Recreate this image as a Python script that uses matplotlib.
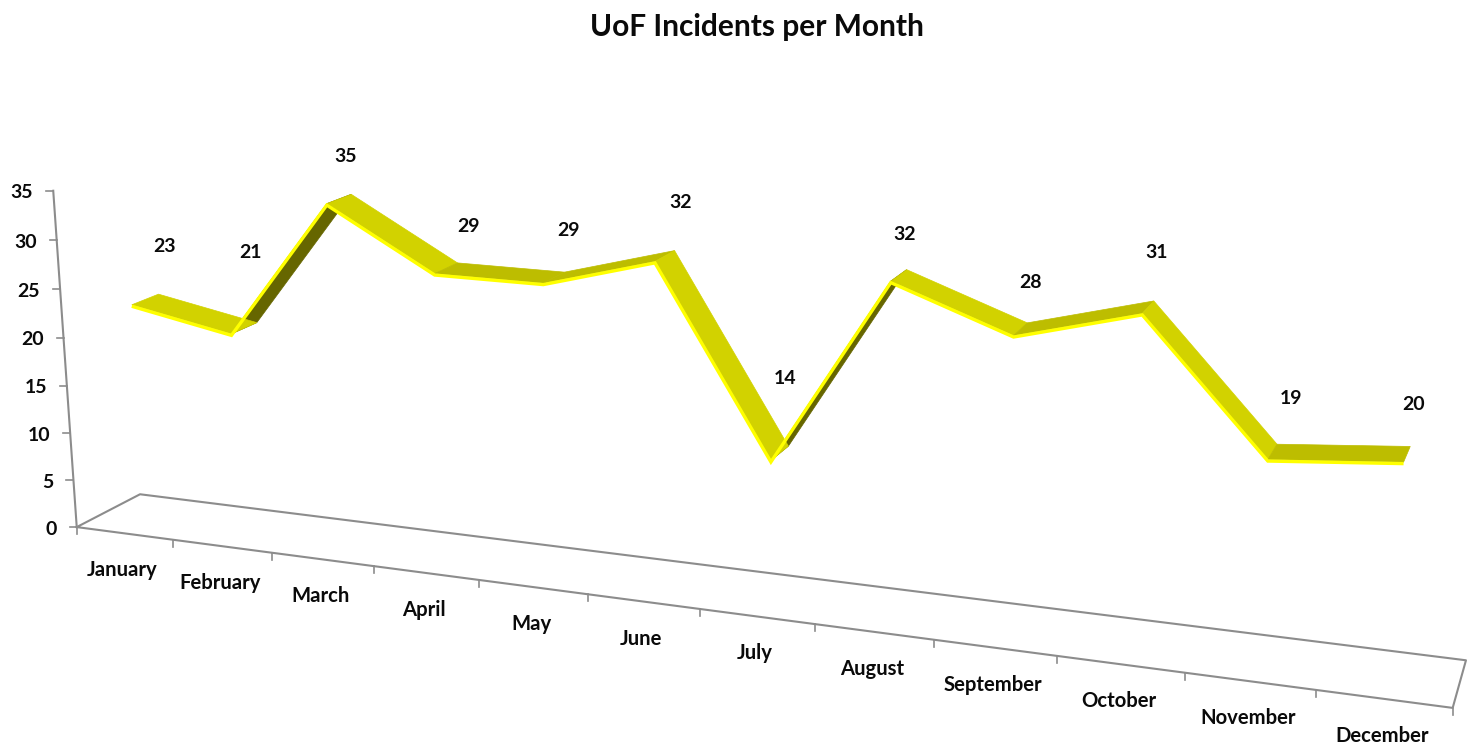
import numpy as np
import matplotlib
matplotlib.use('Agg')
import matplotlib.pyplot as plt
from matplotlib.patches import Polygon

plt.rcParams['font.family'] = ['Lato', 'DejaVu Sans']

title = 'UoF Incidents per Month'
months = ['January', 'February', 'March', 'April', 'May', 'June', 'July',
          'August', 'September', 'October', 'November', 'December']
incidents = [23, 21, 35, 29, 29, 32, 14, 32, 28, 31, 19, 20]
y_ticks = [0, 5, 10, 15, 20, 25, 30, 35]

# where the value labels sit in the picture, they were dragged by hand in the original
label_pos = [(164, 246), (250, 253), (346, 156), (469, 227), (569, 230), (681, 202),
             (785, 378), (905, 234), (1030, 282), (1157, 253), (1291, 398), (1414, 404)]

# (month edge, value, depth) -> picture pixel, used to fit the 3d camera
calib_world = [(0, 0, 0), (1, 0, 0), (11, 0, 0), (12, 0, 0), (0, 0, 1), (12, 0, 1),
               (0, 35, 0), (0, 20, 0), (12, 35, 0)]
calib_pixel = [(77, 527), (173, 540), (1316, 690), (1453, 708), (140, 494.5), (1466, 660),
               (53.5, 191), (63, 337), (1481, 306)]

GREY = '#8c8c8c'
TEXT = '#0a0a0a'
LIT = '#d2d200'
FLAT = '#bdbd00'
DARK = '#666600'
EDGE = '#ffff00'
Z_FRONT = 0.33
Z_BACK = 0.75


def fit_camera(world, pixel):
    rows = []
    rhs = []
    for (x, y, z), (u, v) in zip(world, pixel):
        rows.append([x, y, z, 1, 0, 0, 0, 0, -u * x, -u * y, -u * z])
        rows.append([0, 0, 0, 0, x, y, z, 1, -v * x, -v * y, -v * z])
        rhs += [u, v]
    sol = np.linalg.lstsq(np.array(rows, dtype=float), np.array(rhs, dtype=float), rcond=None)[0]
    return np.append(sol, 1).reshape(3, 4)


camera = fit_camera(calib_world, calib_pixel)


def project(x, y, z):
    p = camera @ np.array([x, y, z, 1.0])
    return p[0] / p[2], p[1] / p[2]


def segment_color(change):
    if change > 5:
        return DARK
    if change >= 0:
        return FLAT
    return LIT


fig = plt.figure(figsize=(14.76, 7.49), dpi=100)
ax = fig.add_axes([0, 0, 1, 1])
ax.set_xlim(0, 1476)
ax.set_ylim(749, 0)
ax.axis('off')

ax.text(757, 27, title, ha='center', va='center', fontsize=21.5, fontweight='bold', color=TEXT)

# floor
corners = [project(0, 0, 0), project(12, 0, 0), project(12, 0, 1), project(0, 0, 1), project(0, 0, 0)]
ax.plot([c[0] for c in corners], [c[1] for c in corners], color=GREY, lw=1.5)

# value axis
top = project(0, max(y_ticks), 0)
bottom = project(0, 0, 0)
ax.plot([bottom[0], top[0]], [bottom[1], top[1]], color=GREY, lw=1.5)
for t in y_ticks:
    px, py = project(0, t, 0)
    ax.plot([px - 7, px], [py, py], color=GREY, lw=1.2)
    ax.text(px - 20, py + 2, str(t), ha='right', va='center', fontsize=14, fontweight='bold', color=TEXT)

# month axis
for i in range(len(months) + 1):
    px, py = project(i, 0, 0)
    ax.plot([px, px], [py, py + 7], color=GREY, lw=1.2)
for i, m in enumerate(months):
    px, py = project(i + 0.5, 0, 0)
    ax.text(px - 2, py + 37, m, ha='center', va='center', fontsize=14.6, fontweight='bold', color=TEXT)

# ribbon, dark undersides go first so the lit faces cover the corners
xs = np.arange(len(incidents)) + 0.5
faces = []
for i in range(len(incidents) - 1):
    quad = [project(xs[i], incidents[i], Z_FRONT), project(xs[i + 1], incidents[i + 1], Z_FRONT),
            project(xs[i + 1], incidents[i + 1], Z_BACK), project(xs[i], incidents[i], Z_BACK)]
    faces.append((segment_color(incidents[i + 1] - incidents[i]), quad))
for color, quad in sorted(faces, key=lambda f: f[0] != DARK):
    ax.add_patch(Polygon(quad, closed=True, facecolor=color, edgecolor=color, lw=0.5))

# bright front face hangs just under the ribbon's front edge
front = [project(x, v, Z_FRONT) for x, v in zip(xs, incidents)]
ax.plot([p[0] for p in front], [p[1] + 1.5 for p in front], color=EDGE, lw=2.4,
        solid_joinstyle='miter', solid_capstyle='butt')

for v, (px, py) in zip(incidents, label_pos):
    ax.text(px, py, str(v), ha='center', va='center', fontsize=14, fontweight='bold', color=TEXT)

fig.savefig('out.png', dpi=100)
